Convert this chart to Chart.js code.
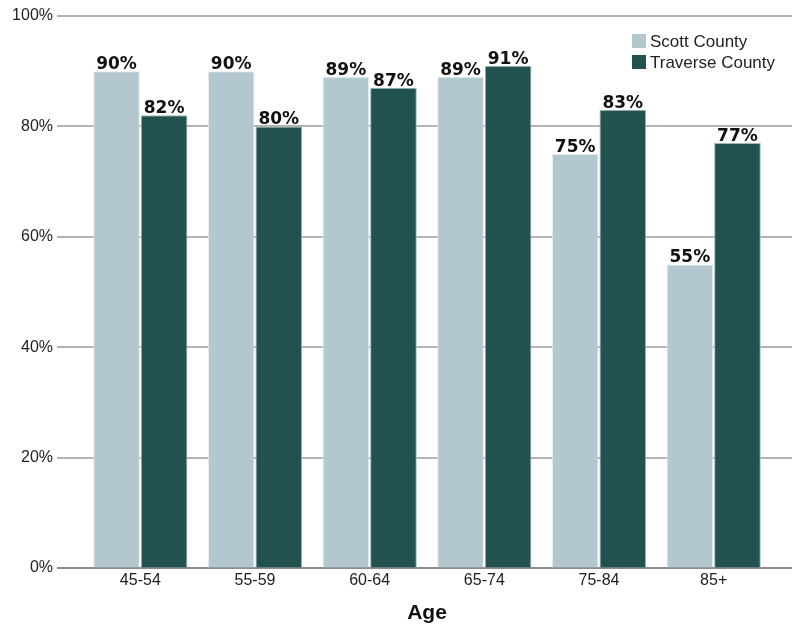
<!DOCTYPE html>
<html><head><meta charset="utf-8">
<script src="https://cdn.jsdelivr.net/npm/chart.js@4/dist/chart.umd.min.js"></script>
<style>html,body{margin:0;padding:0;background:#fff}#wrap{width:792px;height:628px;position:relative}</style>
</head><body><div id="wrap"><canvas id="c" width="792" height="628"></canvas></div>
<script>
const categories = ["45-54","55-59","60-64","65-74","75-84","85+"];
const scottValues = [90, 90, 89, 89, 75, 55];
const traverseValues = [82, 80, 87, 91, 83, 77];
const seriesNames = ["Scott County","Traverse County"];
const yTicks = [0,20,40,60,80,100];
const colors = ["#b2c7ce","#215250"];
const FONT = "'Liberation Sans', Arial, sans-serif";

const gridPlugin = {
  id:'grid',
  beforeDatasetsDraw(chart){
    const ctx = chart.ctx, y = chart.scales.y;
    ctx.save();
    yTicks.forEach(v=>{
      const py = Math.round(y.getPixelForValue(v));
      ctx.strokeStyle = v===0 ? '#8c8c8c' : '#b4b4b4';
      ctx.lineWidth = 2;
      ctx.beginPath(); ctx.moveTo(57, py); ctx.lineTo(chart.width, py); ctx.stroke();
    });
    ctx.restore();
  },
  afterDatasetsDraw(chart){
    const ctx = chart.ctx;
    ctx.save();
    ctx.font = "bold 17px 'DejaVu Sans', sans-serif";
    ctx.fillStyle = '#111';
    ctx.textAlign = 'center'; ctx.textBaseline = 'bottom';
    chart.data.datasets.forEach((ds,i)=>{
      chart.getDatasetMeta(i).data.forEach((el,j)=>{
        ctx.fillText(ds.data[j] + '%', el.x, el.y + 2);
      });
    });
    ctx.font = "17px " + FONT;
    ctx.textAlign = 'left'; ctx.textBaseline = 'middle';
    seriesNames.forEach((n,i)=>{
      const yy = 41 + i*21;
      ctx.fillStyle = colors[i];
      ctx.fillRect(632, yy-7, 14, 14);
      ctx.fillStyle = '#222';
      ctx.fillText(n, 650, yy+1);
    });
    ctx.restore();
  }
};

new Chart(document.getElementById('c'), {
  type:'bar',
  data:{
    labels: categories,
    datasets:[
      {label:seriesNames[0], data:scottValues, backgroundColor:colors[0], borderColor:'#e6eef0', borderWidth:1},
      {label:seriesNames[1], data:traverseValues, backgroundColor:colors[1], borderColor:'#9fb8b6', borderWidth:1}
    ]
  },
  options:{
    responsive:false, animation:false,
    layout:{padding:{left:0,right:21,top:16,bottom:0}},
    plugins:{legend:{display:false}, tooltip:{enabled:false}},
    datasets:{bar:{categoryPercentage:0.83, barPercentage:0.98}},
    scales:{
      x:{
        grid:{display:false}, border:{display:false},
        ticks:{color:'#222', font:{family:FONT, size:16}, padding:-5},
        title:{display:true, text:'Age', color:'#111', font:{family:FONT, size:21, weight:'bold'}, padding:{top:0,bottom:2}},
        afterFit(a){ a.height = 60; }
      },
      y:{
        min:0, max:100,
        afterBuildTicks(a){ a.ticks = yTicks.map(v=>({value:v})); },
        grid:{display:true, drawOnChartArea:false, drawTicks:true, tickLength:26, tickColor:'rgba(0,0,0,0)'},
        border:{display:false},
        ticks:{color:'#222', font:{family:FONT, size:16}, padding:4, callback:v=>v+'%'},
        afterFit(a){ a.width = 83; }
      }
    }
  },
  plugins:[gridPlugin]
});
</script></body></html>
